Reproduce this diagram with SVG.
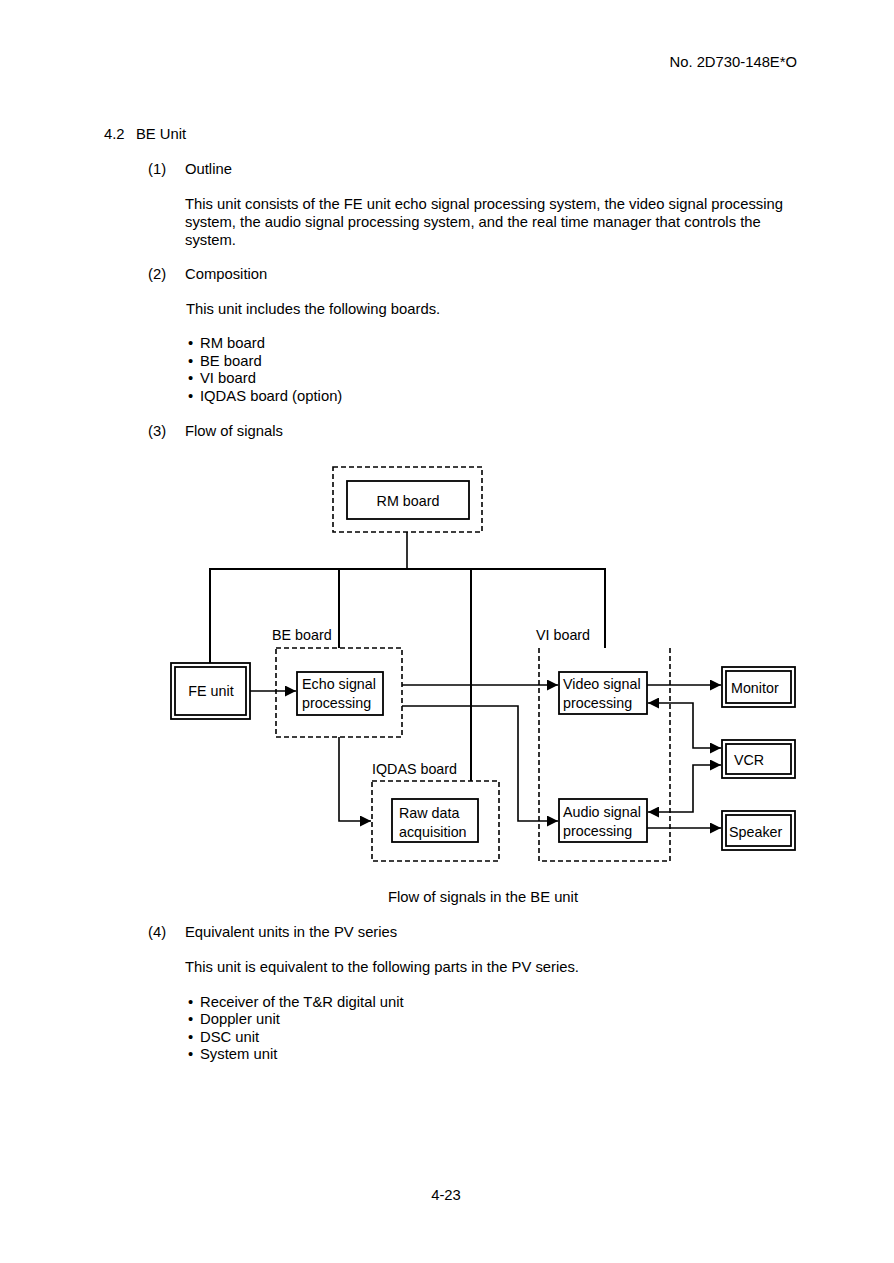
<svg xmlns="http://www.w3.org/2000/svg" width="894" height="1263" viewBox="0 0 894 1263">
<defs>
<marker id="ah" viewBox="0 0 10 10" refX="10" refY="5" markerWidth="11" markerHeight="11" markerUnits="userSpaceOnUse" orient="auto"><path d="M0,0 L10,5 L0,10 z" fill="#000"/></marker>
<marker id="ahs" viewBox="0 0 10 10" refX="0" refY="5" markerWidth="11" markerHeight="11" markerUnits="userSpaceOnUse" orient="auto"><path d="M10,0 L0,5 L10,10 z" fill="#000"/></marker>
<style>
text{font-family:"Liberation Sans",Arial,sans-serif;font-size:14.3px;fill:#000}
#page-text text{font-size:14.8px}
.box{fill:#fff;stroke:#000;stroke-width:1.8}
.dash{fill:none;stroke:#000;stroke-width:1.6;stroke-dasharray:5,3}
.ln{fill:none;stroke:#000;stroke-width:1.6}
.bus{fill:none;stroke:#000;stroke-width:2}
.arr{fill:none;stroke:#000;stroke-width:1.6;marker-end:url(#ah)}
.arr2{fill:none;stroke:#000;stroke-width:1.6;marker-end:url(#ah);marker-start:url(#ahs)}
</style>
</defs>
<rect width="894" height="1263" fill="#fff"/>

<g id="page-text">
<text x="797" y="67" text-anchor="end">No. 2D730-148E*O</text>
<text x="104" y="139">4.2</text><text x="136" y="139">BE Unit</text>
<text x="148" y="174">(1)</text><text x="185" y="174">Outline</text>
<text x="185" y="209">This unit consists of the FE unit echo signal processing system, the video signal processing</text>
<text x="185" y="227">system, the audio signal processing system, and the real time manager that controls the</text>
<text x="185" y="245">system.</text>
<text x="148" y="279">(2)</text><text x="185" y="279">Composition</text>
<text x="186" y="314">This unit includes the following boards.</text>
<text x="188" y="348">•</text><text x="200" y="348">RM board</text>
<text x="188" y="366">•</text><text x="200" y="366">BE board</text>
<text x="188" y="383">•</text><text x="200" y="383">VI board</text>
<text x="188" y="401">•</text><text x="200" y="401">IQDAS board (option)</text>
<text x="148" y="436">(3)</text><text x="185" y="436">Flow of signals</text>
<text x="483" y="902" text-anchor="middle">Flow of signals in the BE unit</text>
<text x="148" y="937">(4)</text><text x="185" y="937">Equivalent units in the PV series</text>
<text x="185" y="972">This unit is equivalent to the following parts in the PV series.</text>
<text x="188" y="1007">•</text><text x="200" y="1007">Receiver of the T&amp;R digital unit</text>
<text x="188" y="1024">•</text><text x="200" y="1024">Doppler unit</text>
<text x="188" y="1042">•</text><text x="200" y="1042">DSC unit</text>
<text x="188" y="1059">•</text><text x="200" y="1059">System unit</text>
<text x="446" y="1200" text-anchor="middle">4-23</text>
</g>

<g id="connectors">
<path class="ln" d="M407,532 V569"/>
<path class="bus" d="M210,663 V569 H605 V648"/>
<path class="bus" d="M339,569 V648"/>
<path class="bus" d="M471,569 V781"/>
<path class="arr" d="M250,691 H296"/>
<path class="arr" d="M402,685 H558"/>
<path class="arr" d="M402,706 H518 V821 H558"/>
<path class="arr" d="M339,737 V821 H371"/>
<path class="arr" d="M647,685 H721"/>
<path class="arr" d="M647,828 H721"/>
<path class="arr2" d="M648,703 H693 V748 H721"/>
<path class="arr2" d="M648,812 H693 V765 H721"/>
</g>

<g id="rm-board">
<rect class="dash" x="333" y="467" width="149" height="65"/>
<rect class="box" x="347" y="481" width="122" height="38"/>
<text x="408" y="506" text-anchor="middle">RM board</text>
</g>

<g id="be-board">
<text x="272" y="640">BE board</text>
<rect class="dash" x="276" y="648" width="126" height="89"/>
</g>
<g id="echo">
<rect class="box" x="297" y="672" width="86" height="43"/>
<text x="302" y="689">Echo signal</text>
<text x="302" y="708">processing</text>
</g>

<g id="fe-unit">
<rect class="box" x="171" y="663" width="79" height="56"/>
<rect class="box" x="175" y="667" width="71" height="48"/>
<text x="211" y="696" text-anchor="middle">FE unit</text>
</g>

<g id="iqdas-board">
<text x="372" y="774">IQDAS board</text>
<rect class="dash" x="372" y="781" width="127" height="80"/>
</g>
<g id="raw-data">
<rect class="box" x="392" y="799" width="86" height="43"/>
<text x="399" y="818">Raw data</text>
<text x="399" y="837">acquisition</text>
</g>

<g id="vi-board">
<text x="536" y="640">VI board</text>
<path class="dash" d="M539,648 V861 H670 V648"/>
</g>
<g id="video">
<rect class="box" x="559" y="672" width="88" height="42"/>
<text x="563" y="689">Video signal</text>
<text x="563" y="708">processing</text>
</g>
<g id="audio">
<rect class="box" x="559" y="799" width="88" height="43"/>
<text x="563" y="817">Audio signal</text>
<text x="563" y="836">processing</text>
</g>

<g id="monitor">
<rect class="box" x="722" y="667" width="73" height="40"/>
<rect class="box" x="726" y="671" width="65" height="32"/>
<text x="731" y="693">Monitor</text>
</g>
<g id="vcr">
<rect class="box" x="722" y="740" width="73" height="38"/>
<rect class="box" x="726" y="744" width="65" height="30"/>
<text x="734" y="765">VCR</text>
</g>
<g id="speaker">
<rect class="box" x="722" y="811" width="73" height="39"/>
<rect class="box" x="726" y="815" width="65" height="31"/>
<text x="729" y="837">Speaker</text>
</g>
</svg>
